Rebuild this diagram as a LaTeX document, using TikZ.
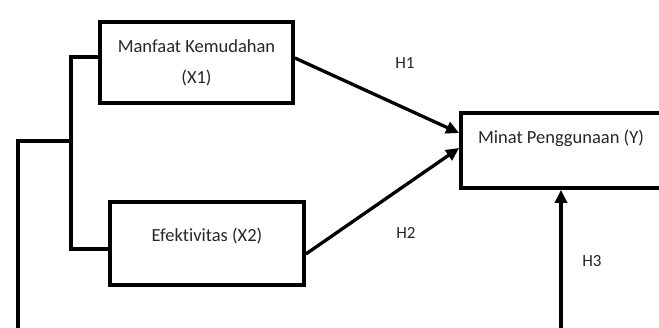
\documentclass[tikz,border=0pt]{standalone}
\usepackage{fontspec}
\setmainfont{Carlito}[RawFeature={-liga}]
\usetikzlibrary{arrows.meta}

\begin{document}
\begin{tikzpicture}[x=1pt,y=-1pt,
    varbox/.style={draw,line width=3.8pt,inner sep=0pt,align=center,
        font=\fontsize{18.5}{22}\selectfont,text=black!85},
    wire/.style={line width=3.3pt},
    arr/.style={wire,-{Triangle[length=13pt,width=12pt]}},
    hlabel/.style={font=\fontsize{17}{20}\selectfont,text=black!85}]

\useasboundingbox (0,0) rectangle (659,328);
\clip (0,0) rectangle (659,328);

\node[varbox,minimum width=193pt,minimum height=81pt] (x1) at (196.5,62.5)
    {Manfaat Kemudahan\\[9pt](X1)};
\node[varbox,minimum width=194pt,minimum height=83pt,text height=14pt,text depth=18pt] (x2) at (207,243.5)
    {Efektivitas (X2)};
\node[varbox,minimum width=200pt,minimum height=75pt,text height=14pt,text depth=28pt] (y) at (561,150.5)
    {Minat Penggunaan (Y)};

\coordinate (jn) at (73,141);
\coordinate (lc) at (18,350);

\draw[wire] ([yshift=5.5pt]x1.west) -- ++(-27,0) |- ([yshift=-5.5pt]x2.west);
\draw[arr] (jn) -| (lc) -| (y.south);

\draw[arr] ([yshift=4.5pt]x1.east) -- ([yshift=17.5pt]y.west);
\draw[arr] ([yshift=-10.5pt]x2.east) -- ([yshift=2.5pt]y.west);

\node[hlabel] (h1) at (405,63) {H1};
\node[hlabel] (h2) at (406,233) {H2};
\node[hlabel] (h3) at (592,261) {H3};
\end{tikzpicture}
\end{document}
